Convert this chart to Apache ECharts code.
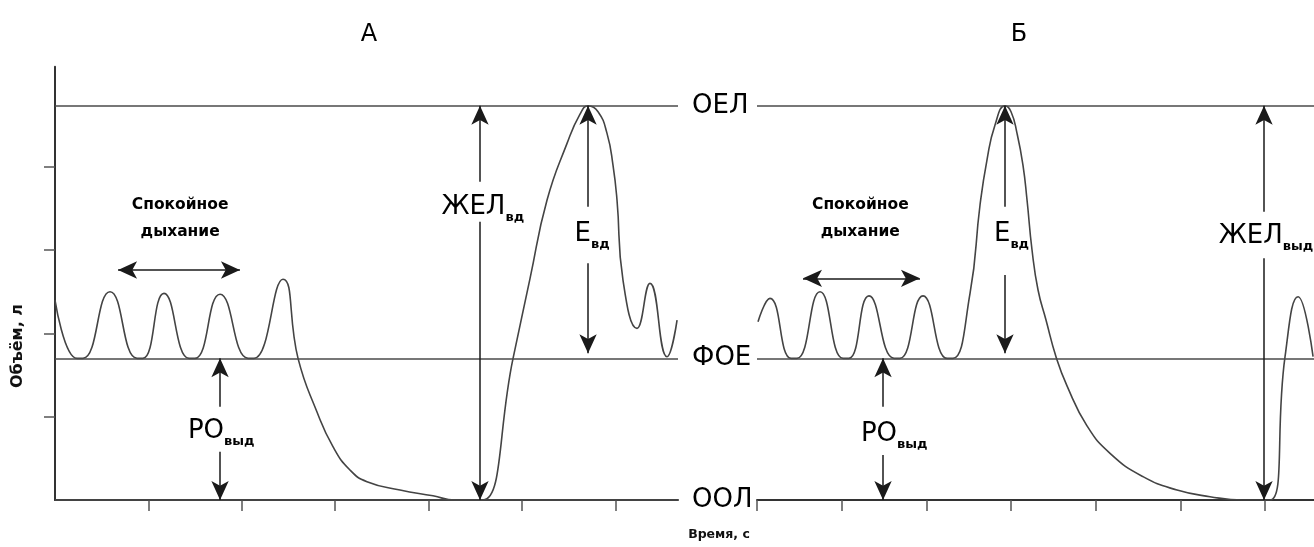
<!DOCTYPE html>
<html>
<head>
<meta charset="utf-8">
<script src="https://cdn.jsdelivr.net/npm/echarts@6/dist/echarts.min.js"></script>
<style>html,body{margin:0;padding:0;background:#fff}#c{width:1314px;height:547px}</style>
</head>
<body>
<div id="c"></div>
<script>
// ---- data (time units, volume units) ----
const panelTitles = ['А', 'Б'];
const levelNames = ['ОЕЛ', 'ФОЕ', 'ООЛ'];
const levelValues = [4.73, 1.70, 0];
const yAxisName = 'Объём, л';
const xAxisName = 'Время, с';
const quietLabel = ['Спокойное', 'дыхание'];

// Panel A spirogram (t, V)
const curveA = [
  [0.000,2.40],[0.236,1.70],[0.300,1.70],[0.589,2.50],
  [0.878,1.70],[0.942,1.70],[1.167,2.48],[1.435,1.70],[1.499,1.70],
  [1.767,2.47],[2.067,1.70],[2.131,1.70],[2.441,2.65],
  [2.602,1.70],[2.805,1.056],[2.976,0.64],[3.158,0.36],[3.340,0.22],
  [3.694,0.12],[4.047,0.05],[4.283,0.00],[4.443,0.00],[4.582,0.00],[4.904,1.70],
  [5.086,2.66],[5.268,3.60],[5.482,4.28],[5.621,4.63],[5.707,4.73],[5.814,4.66],
  [5.910,4.40],[5.974,4.02],[6.017,3.60],[6.081,2.64],[6.231,2.06],
  [6.370,2.60],[6.552,1.72],[6.660,2.16]
];
// Panel B spirogram (t, V)
const curveB = [
  [0.012,2.14],[0.153,2.42],[0.402,1.70],[0.472,1.70],[0.744,2.50],
  [1.016,1.70],[1.086,1.70],[1.322,2.45],[1.618,1.70],
  [1.688,1.70],[1.960,2.45],[2.244,1.70],[2.314,1.70],
  [2.515,2.48],[2.633,3.54],[2.715,4.08],[2.810,4.50],[2.928,4.73],[2.999,4.66],
  [3.070,4.40],[3.140,4.02],[3.188,3.60],[3.247,3.00],[3.318,2.52],[3.412,2.16],
  [3.530,1.72],[3.660,1.37],[3.896,0.89],[4.168,0.56],[4.557,0.28],[4.959,0.12],
  [5.348,0.04],[5.738,0.00],[6.057,0.00],[6.234,1.72],[6.388,2.44],
  [6.565,1.72]
];

// annotation arrows: [x, yFrom, yTo] (vertical), head at yTo
const arrowsA = [[1.767,1.12,1.70],[1.767,0.58,0.00],[4.55,3.82,4.73],[4.55,3.34,0.00],[5.707,3.52,4.73],[5.707,2.84,1.76]];
const arrowsB = [[1.488,1.12,1.70],[1.488,0.54,0.00],[2.928,3.52,4.73],[2.928,2.70,1.76],[5.986,3.46,4.73],[5.986,2.90,0.00]];
// double arrows: [xFrom, xTo, y]
const quietArrowA = [0.675, 1.98, 2.76];
const quietArrowB = [0.543, 1.924, 2.66];

// labels: [t, V, main, sub]
const labelsA = [[4.58,3.49,'ЖЕЛ','вд'],[5.75,3.166,'Е','вд'],[1.78,0.80,'РО','выд']];
const labelsB = [[6.01,3.146,'ЖЕЛ','выд'],[3.005,3.166,'Е','вд'],[1.62,0.77,'РО','выд']];
const quietPosA = [1.34, 3.38];
const quietPosB = [1.22, 3.38];

// ---- chart ----
const FONT = '"DejaVu Sans", "Open Sans", sans-serif';
const chart = echarts.init(document.getElementById('c'), null, {renderer: 'canvas'});
const TOP = 66.7, BOTTOM = 47;
const YMAX = 5.2;
const LINE_C = '#444';
const ARROW_C = '#000';
const HEAD = [13, 19];

function head() {
  return {symbol: 'arrow', symbolSize: HEAD.slice()};
}
function arrowLines(list, quiet) {
  const d = list.map(a => [
    {coord: [a[0], a[1]], symbol: 'none'},
    Object.assign({coord: [a[0], a[2]]}, head())
  ]);
  d.push([
    Object.assign({coord: [quiet[0], quiet[2]]}, head()),
    Object.assign({coord: [quiet[1], quiet[2]]}, head())
  ]);
  return d;
}
const rich = {
  m: {fontSize: 26, fontFamily: FONT, color: '#000', lineHeight: 30, verticalAlign: 'top', textBorderWidth: 0},
  s: {fontSize: 13, fontFamily: FONT, fontWeight: 'bold', color: '#000', lineHeight: 14, verticalAlign: 'bottom', padding: [28, 0, 0, 0], textBorderWidth: 0},
  q: {fontSize: 15.5, fontFamily: FONT, fontWeight: 'bold', color: '#000', lineHeight: 27, textBorderWidth: 0}
};
function labelData(list, quietPos) {
  const d = list.map(l => ({value: [l[0], l[1]], label: {formatter: '{m|' + l[2] + '}{s|' + l[3] + '}'}}));
  d.push({value: quietPos, label: {formatter: quietLabel.map(s => '{q|' + s + '}').join('\n')}});
  return d;
}
function markLineArrows(list, quiet) {
  return {silent: true, animation: false, symbol: 'none',
    lineStyle: {color: '#1a1a1a', width: 1.5, type: 'solid', opacity: 1},
    itemStyle: {color: ARROW_C, opacity: 1},
    label: {show: false}, emphasis: {disabled: true},
    data: arrowLines(list, quiet)};
}
const labelCommon = {show: true, position: 'inside', color: '#000', opacity: 1, textBorderWidth: 0, textShadowBlur: 0, rich: rich};

const option = {
  backgroundColor: '#fff',
  animation: false,
  title: [
    {text: panelTitles[0], left: 369, top: 23, textAlign: 'center', padding: 0, textStyle: {fontFamily: FONT, fontSize: 24, fontWeight: 'normal', color: '#000'}},
    {text: panelTitles[1], left: 1019, top: 23, textAlign: 'center', padding: 0, textStyle: {fontFamily: FONT, fontSize: 24, fontWeight: 'normal', color: '#000'}},
    {text: xAxisName, left: 719, top: 528, textAlign: 'center', padding: 0, textStyle: {fontFamily: FONT, fontSize: 12.5, fontWeight: 'bold', color: '#111'}}
  ],
  graphic: [
    {type: 'text', x: 18, y: 346, rotation: Math.PI / 2, silent: true,
     style: {text: yAxisName, fontFamily: FONT, fontSize: 16, fontWeight: 'bold', fill: '#111', align: 'center', verticalAlign: 'middle'}}
  ],
  grid: [
    {left: 55, top: TOP, width: 623, bottom: BOTTOM},
    {left: 757, top: TOP, right: 0, bottom: BOTTOM}
  ],
  xAxis: [
    {gridIndex: 0, type: 'value', min: 0, max: 6.67, interval: 1,
     axisLine: {show: true, onZero: false, lineStyle: {color: '#333', width: 2}},
     axisTick: {show: true, length: 11, customValues: [1, 2, 3, 4, 5, 6], lineStyle: {color: '#555', width: 1.5}},
     axisLabel: {show: false}, splitLine: {show: false}},
    {gridIndex: 1, type: 'value', min: 0, max: 6.576, interval: 1,
     axisLine: {show: true, onZero: false, lineStyle: {color: '#333', width: 2}},
     axisTick: {show: true, length: 11, customValues: [0, 1, 2, 3, 4, 5, 6], lineStyle: {color: '#555', width: 1.5}},
     axisLabel: {show: false}, splitLine: {show: false}}
  ],
  yAxis: [
    {gridIndex: 0, type: 'value', min: 0, max: YMAX, interval: 1,
     axisLine: {show: true, lineStyle: {color: '#333', width: 2}},
     axisTick: {show: true, length: 11, customValues: [1, 2, 3, 4], lineStyle: {color: '#555', width: 1.5}},
     axisLabel: {show: false}, splitLine: {show: false}},
    {gridIndex: 1, type: 'value', min: 0, max: YMAX, show: false, splitLine: {show: false}}
  ],
  series: [
    {type: 'line', xAxisIndex: 0, yAxisIndex: 0, data: curveA, smooth: 0.5, symbol: 'none',
     lineStyle: {color: LINE_C, width: 1.6}, silent: true, z: 3,
     markLine: {silent: true, symbol: 'none', animation: false,
       lineStyle: {color: '#4a4a4a', width: 1.5, type: 'solid'},
       label: {show: true, position: 'end', distance: 14, fontFamily: FONT, fontSize: 26, color: '#000', formatter: p => p.name},
       emphasis: {disabled: true},
       data: levelValues.map((v, i) => ({yAxis: v, name: levelNames[i]}))}
    },
    {type: 'line', xAxisIndex: 1, yAxisIndex: 1, data: curveB, smooth: 0.5, symbol: 'none',
     lineStyle: {color: LINE_C, width: 1.6}, silent: true, z: 3,
     markLine: {silent: true, symbol: 'none', animation: false,
       lineStyle: {color: '#4a4a4a', width: 1.5, type: 'solid'},
       label: {show: false}, emphasis: {disabled: true},
       data: levelValues.slice(0, 2).map(v => ({yAxis: v}))}
    },
    {type: 'line', xAxisIndex: 0, yAxisIndex: 0, data: [], silent: true, markLine: markLineArrows(arrowsA, quietArrowA)},
    {type: 'line', xAxisIndex: 1, yAxisIndex: 1, data: [], silent: true, markLine: markLineArrows(arrowsB, quietArrowB)},
    {type: 'scatter', xAxisIndex: 0, yAxisIndex: 0, symbolSize: 0, silent: true, z: 10,
     itemStyle: {color: '#000', opacity: 1}, label: labelCommon, data: labelData(labelsA, quietPosA)},
    {type: 'scatter', xAxisIndex: 1, yAxisIndex: 1, symbolSize: 0, silent: true, z: 10,
     itemStyle: {color: '#000', opacity: 1}, label: labelCommon, data: labelData(labelsB, quietPosB)}
  ]
};
chart.setOption(option);
</script>
</body>
</html>
